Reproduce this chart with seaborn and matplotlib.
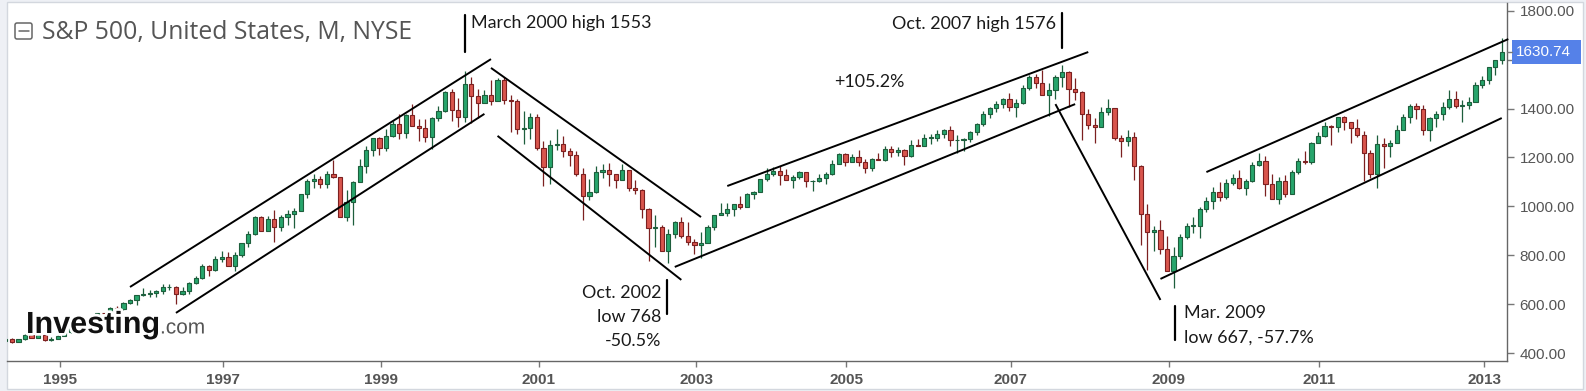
import numpy as np
import pandas as pd
import matplotlib
matplotlib.use("Agg")
import matplotlib.pyplot as plt
import seaborn as sns
from matplotlib.patches import Rectangle, FancyBboxPatch, Ellipse
import matplotlib.patheffects as pe

# ---------------- data (S&P 500 monthly candles, May 1994 - May 2013) ----------------
first_month = "1994-05"
last_month = "2013-05"

opens = [
    450.9, 456.5, 444.3, 458.3, 475.5, 462.7, 472.4, 453.7,
    459.3, 470.4, 487.4, 500.7, 514.7, 533.4, 544.8, 562.1, 561.9, 584.4, 581.5, 605.4,
    615.9, 636.0, 640.4, 645.5, 654.2, 669.1, 670.6, 640.0, 652.0, 687.3, 705.3, 757.0,
    740.7, 786.2, 790.8, 757.1, 801.3, 848.3, 885.1, 954.3, 899.5, 947.3, 914.6, 955.4,
    970.4, 980.3, 1049.3, 1101.8, 1111.8, 1090.8, 1133.8, 1120.7, 957.3, 1017.0, 1098.7, 1163.6,
    1229.2, 1279.6, 1238.3, 1286.4, 1335.2, 1301.8, 1372.7, 1328.7, 1320.4, 1282.7, 1362.9, 1388.9,
    1469.3, 1394.5, 1366.4, 1498.6, 1452.4, 1420.6, 1454.6, 1430.8, 1517.7, 1436.5, 1429.4, 1315.0,
    1320.3, 1366.0, 1239.9, 1160.3, 1249.5, 1255.8, 1224.4, 1211.2, 1133.6, 1040.9, 1059.8, 1139.5,
    1148.1, 1130.2, 1106.7, 1147.4, 1076.9, 1067.1, 989.8, 911.6, 916.1, 815.3, 885.8, 936.3,
    879.8, 855.7, 841.2, 848.2, 916.9, 963.6, 974.5, 990.3, 1008.0, 996.0, 1050.7, 1058.2,
    1111.9, 1131.1, 1144.9, 1126.2, 1107.3, 1120.7, 1140.8, 1101.7, 1104.2, 1114.6, 1130.2, 1173.8,
    1211.9, 1181.3, 1203.6, 1180.6, 1156.9, 1191.5, 1191.3, 1234.2, 1220.3, 1228.8, 1207.0, 1249.5,
    1248.3, 1280.1, 1280.7, 1294.8, 1310.6, 1270.1, 1270.2, 1276.7, 1303.8, 1335.9, 1377.9, 1400.6,
    1418.3, 1438.2, 1406.8, 1420.9, 1482.4, 1530.6, 1503.4, 1455.3, 1474.0, 1526.8, 1549.4, 1481.1,
    1468.4, 1378.6, 1330.6, 1322.7, 1385.6, 1400.4, 1280.0, 1267.4, 1282.8, 1166.4, 968.8, 896.2,
    903.3, 825.9, 735.1, 797.9, 872.8, 919.1, 919.3, 987.5, 1020.6, 1057.1, 1036.2, 1095.6,
    1115.1, 1073.9, 1104.5, 1169.4, 1186.7, 1089.4, 1030.7, 1101.6, 1049.3, 1141.2, 1183.3, 1180.6,
    1257.6, 1286.1, 1327.2, 1325.8, 1363.6, 1345.2, 1320.6, 1292.3, 1218.9, 1131.4, 1253.3, 1247.0,
    1257.6, 1312.4, 1365.7, 1408.5, 1397.9, 1310.3, 1362.2, 1379.3, 1406.6, 1440.7, 1412.2, 1416.2,
    1426.2, 1498.1, 1514.7, 1569.2, 1597.6,
]
highs = [
    457.6, 462.1, 459.3, 477.1, 476.0, 473.8, 474.6, 466.5,
    472.8, 489.2, 503.9, 515.3, 535.0, 551.1, 563.8, 565.4, 586.8, 590.7, 608.8, 622.9,
    636.2, 664.2, 659.4, 657.0, 681.1, 680.3, 675.9, 670.7, 690.9, 714.1, 762.1, 761.8,
    794.7, 817.7, 814.9, 812.9, 851.5, 898.7, 960.3, 961.6, 960.5, 983.1, 964.6, 986.3,
    992.7, 1051.0, 1113.1, 1130.5, 1122.1, 1145.2, 1190.6, 1121.6, 1066.1, 1103.8, 1193.0, 1244.9,
    1280.4, 1283.0, 1316.6, 1347.8, 1376.0, 1376.8, 1420.3, 1357.7, 1357.7, 1364.0, 1408.3, 1473.1,
    1478.0, 1444.6, 1552.9, 1527.2, 1481.5, 1474.6, 1517.3, 1525.2, 1530.1, 1454.8, 1438.5, 1389.1,
    1383.4, 1376.4, 1267.4, 1269.3, 1315.9, 1286.6, 1239.8, 1226.3, 1155.4, 1110.6, 1163.4, 1173.0,
    1176.6, 1130.2, 1173.0, 1147.8, 1106.6, 1070.7, 994.5, 965.0, 924.0, 907.4, 941.8, 954.3,
    935.0, 864.6, 895.9, 924.2, 965.4, 1015.3, 1015.4, 1011.0, 1040.3, 1053.8, 1063.7, 1112.6,
    1155.4, 1159.0, 1163.2, 1150.6, 1127.7, 1146.3, 1140.8, 1108.6, 1131.5, 1142.1, 1188.5, 1217.3,
    1217.9, 1212.4, 1229.1, 1191.9, 1199.6, 1219.6, 1245.2, 1245.9, 1243.1, 1233.3, 1270.6, 1275.8,
    1294.9, 1297.6, 1310.9, 1318.2, 1326.7, 1290.7, 1280.4, 1306.7, 1340.3, 1389.5, 1407.9, 1431.8,
    1441.6, 1461.6, 1438.9, 1498.0, 1535.6, 1540.6, 1555.9, 1503.9, 1538.7, 1576.1, 1552.8, 1523.6,
    1471.8, 1396.0, 1359.7, 1404.6, 1440.2, 1404.1, 1292.2, 1313.2, 1303.0, 1167.0, 1007.5, 918.9,
    943.9, 877.9, 833.0, 888.7, 930.2, 956.2, 996.7, 1039.5, 1080.2, 1101.4, 1111.0, 1130.4,
    1150.5, 1112.4, 1180.2, 1219.8, 1205.1, 1131.2, 1121.0, 1129.2, 1148.7, 1196.1, 1227.1, 1262.6,
    1302.7, 1344.1, 1332.3, 1367.0, 1370.6, 1345.2, 1356.5, 1307.4, 1229.3, 1292.7, 1277.6, 1269.4,
    1333.5, 1378.0, 1419.2, 1422.4, 1415.3, 1363.5, 1391.7, 1426.7, 1474.5, 1471.0, 1434.3, 1448.0,
    1509.9, 1530.9, 1570.3, 1597.6, 1687.2,
]
lows = [
    439.8, 441.6, 444.3, 454.3, 460.4, 460.2, 449.1, 450.6,
    457.2, 469.0, 481.7, 500.2, 510.8, 530.2, 541.6, 553.5, 560.4, 573.4, 577.5, 599.9,
    597.3, 633.7, 627.6, 630.1, 641.3, 659.5, 601.8, 638.5, 639.6, 682.9, 703.8, 716.7,
    737.0, 773.4, 756.0, 733.5, 793.2, 833.6, 882.9, 897.8, 898.0, 855.3, 897.8, 924.9,
    912.8, 979.5, 1032.5, 1076.7, 1074.4, 1074.8, 1114.3, 957.3, 940.0, 923.3, 1098.6, 1136.9,
    1205.5, 1211.7, 1226.2, 1282.7, 1277.3, 1281.4, 1328.7, 1268.7, 1263.5, 1233.7, 1348.7, 1387.4,
    1350.1, 1325.1, 1346.6, 1339.4, 1361.1, 1420.6, 1413.9, 1429.9, 1419.4, 1305.8, 1294.9, 1254.1,
    1274.6, 1228.3, 1081.2, 1092.0, 1232.0, 1203.0, 1165.5, 1124.9, 944.8, 1026.8, 1054.3, 1114.5,
    1081.7, 1074.4, 1106.7, 1063.5, 1049.0, 952.9, 775.7, 833.4, 815.3, 768.6, 872.1, 872.0,
    840.3, 806.3, 788.9, 847.9, 902.8, 963.6, 962.1, 960.8, 990.4, 996.0, 1031.2, 1058.2,
    1105.1, 1124.4, 1087.2, 1107.2, 1076.3, 1113.3, 1078.8, 1060.7, 1101.3, 1090.2, 1127.6, 1173.8,
    1163.8, 1180.1, 1163.7, 1136.2, 1146.2, 1188.3, 1183.6, 1201.1, 1205.4, 1168.2, 1201.1, 1246.6,
    1245.7, 1253.6, 1268.4, 1280.7, 1245.3, 1219.3, 1224.5, 1261.3, 1290.9, 1327.1, 1361.0, 1385.9,
    1404.0, 1389.1, 1364.0, 1416.4, 1476.7, 1484.2, 1454.3, 1370.6, 1439.3, 1489.6, 1406.1, 1435.7,
    1270.1, 1316.8, 1257.0, 1324.4, 1373.1, 1272.0, 1200.4, 1247.5, 1106.4, 839.8, 741.0, 815.7,
    804.5, 734.5, 666.8, 783.3, 866.1, 888.9, 869.3, 978.5, 991.0, 1020.0, 1029.4, 1085.9,
    1071.6, 1044.5, 1101.0, 1163.0, 1040.8, 1028.3, 1010.9, 1039.7, 1049.3, 1131.9, 1173.0, 1173.0,
    1257.6, 1282.9, 1249.1, 1305.6, 1311.8, 1258.1, 1282.9, 1101.5, 1114.2, 1074.8, 1158.7, 1202.4,
    1257.6, 1312.4, 1340.0, 1357.4, 1292.0, 1266.7, 1325.4, 1354.7, 1396.6, 1403.3, 1343.4, 1398.1,
    1426.2, 1485.0, 1501.5, 1536.0, 1581.3,
]
closes = [
    456.5, 444.3, 458.3, 475.5, 462.7, 472.4, 453.7, 459.3,
    470.4, 487.4, 500.7, 514.7, 533.4, 544.8, 562.1, 561.9, 584.4, 581.5, 605.4, 615.9,
    636.0, 640.4, 645.5, 654.2, 669.1, 670.6, 640.0, 652.0, 687.3, 705.3, 757.0, 740.7,
    786.2, 790.8, 757.1, 801.3, 848.3, 885.1, 954.3, 899.5, 947.3, 914.6, 955.4, 970.4,
    980.3, 1049.3, 1101.8, 1111.8, 1090.8, 1133.8, 1120.7, 957.3, 1017.0, 1098.7, 1163.6, 1229.2,
    1279.6, 1238.3, 1286.4, 1335.2, 1301.8, 1372.7, 1328.7, 1320.4, 1282.7, 1362.9, 1388.9, 1469.3,
    1394.5, 1366.4, 1498.6, 1452.4, 1420.6, 1454.6, 1430.8, 1517.7, 1436.5, 1429.4, 1315.0, 1320.3,
    1366.0, 1239.9, 1160.3, 1249.5, 1255.8, 1224.4, 1211.2, 1133.6, 1040.9, 1059.8, 1139.5, 1148.1,
    1130.2, 1106.7, 1147.4, 1076.9, 1067.1, 989.8, 911.6, 916.1, 815.3, 885.8, 936.3, 879.8,
    855.7, 841.2, 848.2, 916.9, 963.6, 974.5, 990.3, 1008.0, 996.0, 1050.7, 1058.2, 1111.9,
    1131.1, 1144.9, 1126.2, 1107.3, 1120.7, 1140.8, 1101.7, 1104.2, 1114.6, 1130.2, 1173.8, 1211.9,
    1181.3, 1203.6, 1180.6, 1156.9, 1191.5, 1191.3, 1234.2, 1220.3, 1228.8, 1207.0, 1249.5, 1248.3,
    1280.1, 1280.7, 1294.8, 1310.6, 1270.1, 1270.2, 1276.7, 1303.8, 1335.9, 1377.9, 1400.6, 1418.3,
    1438.2, 1406.8, 1420.9, 1482.4, 1530.6, 1503.4, 1455.3, 1474.0, 1526.8, 1549.4, 1481.1, 1468.4,
    1378.6, 1330.6, 1322.7, 1385.6, 1400.4, 1280.0, 1267.4, 1282.8, 1166.4, 968.8, 896.2, 903.3,
    825.9, 735.1, 797.9, 872.8, 919.1, 919.3, 987.5, 1020.6, 1057.1, 1036.2, 1095.6, 1115.1,
    1073.9, 1104.5, 1169.4, 1186.7, 1089.4, 1030.7, 1101.6, 1049.3, 1141.2, 1183.3, 1180.6, 1257.6,
    1286.1, 1327.2, 1325.8, 1363.6, 1345.2, 1320.6, 1292.3, 1218.9, 1131.4, 1253.3, 1247.0, 1257.6,
    1312.4, 1365.7, 1408.5, 1397.9, 1310.3, 1362.2, 1379.3, 1406.6, 1440.7, 1412.2, 1416.2, 1426.2,
    1498.1, 1514.7, 1569.2, 1597.6, 1630.74,
]

year_labels = ["1995", "1997", "1999", "2001", "2003", "2005", "2007", "2009", "2011", "2013"]
y_ticks = [400, 600, 800, 1000, 1200, 1400, 1600, 1800]
last_price = 1630.74

# trend channel lines: (month, value) endpoints
trend_lines = [
    (("1995-12", 670), ("2000-07", 1602)),
    (("1996-07", 564), ("2000-06", 1378)),
    (("2000-07", 1566), ("2003-03", 956)),
    (("2000-08", 1288), ("2002-12", 699)),
    (("2003-07", 1083), ("2008-02", 1631)),
    (("2002-11", 752), ("2007-12", 1418)),
    (("2007-09", 1418), ("2009-01", 617)),
    (("2009-08", 1140), ("2013-06", 1684)),
    (("2009-01", 703), ("2013-05", 1361)),
]

annotations_right = [("Oct. 2002", "low 768", "-50.5%")]

# ---------------- build frame ----------------
months = pd.period_range(first_month, last_month, freq="M")
assert len(months) == len(opens) == len(highs) == len(lows) == len(closes), (
    len(months), len(opens), len(highs), len(lows), len(closes))


def midx(p):
    p = pd.Period(p, freq="M")
    return (p.year - 1995) * 12 + p.month - 1


df = pd.DataFrame({"t": [midx(m) for m in months], "o": opens, "h": highs,
                   "l": lows, "c": closes})
df["up"] = df["c"] >= df["o"]

# ---------------- style ----------------
sns.set_theme(style="white")
plt.rcParams["font.family"] = ["Liberation Sans", "DejaVu Sans"]

W, H = 1586, 391
fig = plt.figure(figsize=(W / 100, H / 100), dpi=100, facecolor="#eef0f5")

# widget background
bg = fig.add_axes([0, 0, 1, 1], zorder=-5)
bg.set_xlim(0, W); bg.set_ylim(H, 0); bg.axis("off")
bg.add_patch(Rectangle((7, 2), 1576, 387, facecolor="white", edgecolor="#d3d7de", lw=1))

ax = fig.add_axes([7 / W, 30 / H, 1500 / W, 358 / H], zorder=1)
ax.set_facecolor("white")
ax.patch.set_alpha(0)

GREEN_F, GREEN_E = "#27a56c", "#1d5e3c"
RED_F, RED_E = "#d9554d", "#7c2020"
fills = np.where(df["up"], GREEN_F, RED_F)
edges = np.where(df["up"], GREEN_E, RED_E)

ax.vlines(df["t"], df["l"], df["h"], colors=edges, lw=0.9, zorder=2)
body_lo = np.minimum(df["o"], df["c"])
body_h = np.maximum((df["c"] - df["o"]).abs(), 2.5)
ax.bar(df["t"], body_h, bottom=body_lo, width=0.64, color=fills, edgecolor=edges,
       linewidth=0.8, zorder=3)

for (m0, v0), (m1, v1) in trend_lines:
    ax.plot([midx(m0), midx(m1)], [v0, v1], color="black", lw=1.4, zorder=4,
            clip_on=False, solid_capstyle="butt")

ax.set_xlim(-7.74, 220.8)
ax.set_ylim(367.3, 1831.5)

tick_offsets = [0.3, 1.2, 1.3, 1.3, 1.3, 0.1, 1.2, 1.3, 0.2, 1.3]
ax.set_xticks([midx(y + "-01") + off for y, off in zip(year_labels, tick_offsets)])
ax.set_xticklabels(year_labels, fontsize=11, fontweight="bold", color="#555555")
ax.yaxis.tick_right()
ax.set_yticks(y_ticks)
# the 1600 label is hidden under the last-price tag in the reference
ax.set_yticklabels(["" if v == 1600 else f"{v:.2f}" for v in y_ticks],
                   fontsize=11, color="#555555")
ax.tick_params(axis="x", length=4, width=1, color="#777777", pad=5, bottom=True)
ax.tick_params(axis="y", length=5, width=1, color="#777777", pad=4, right=True, left=False)
for s in ["top", "left"]:
    ax.spines[s].set_visible(False)
for s in ["right", "bottom"]:
    ax.spines[s].set_color("#666666")
    ax.spines[s].set_linewidth(1)
ax.grid(False)

# ---------------- overlay (pixel coordinates) ----------------
ov = fig.add_axes([0, 0, 1, 1], zorder=5)
ov.set_xlim(0, W); ov.set_ylim(H, 0); ov.axis("off"); ov.patch.set_alpha(0)

# title + collapse icon
ov.add_patch(FancyBboxPatch((15, 23), 17, 16, boxstyle="round,pad=0,rounding_size=2",
                            facecolor="none", edgecolor="#666666", lw=1.1))
ov.plot([18.5, 28.5], [31, 31], color="#666666", lw=1.1)
ov.text(42, 32, "S&P 500, United States, M, NYSE", fontsize=17.8, color="#555555",
        family=["Open Sans", "DejaVu Sans"], ha="left", va="center")

# logo
halo = [pe.withStroke(linewidth=4, foreground="white")]
ov.text(26, 325, "Investing", fontsize=22, fontweight="bold", color="#111111",
        ha="left", va="center", path_effects=halo)
ov.text(160, 328, ".com", fontsize=15, color="#555555", ha="left", va="center",
        path_effects=halo)
ov.add_patch(Ellipse((118.5, 313.5), 5, 5, facecolor="#f5a623", edgecolor="none"))

# annotation texts
afont = dict(family=["Lato", "DejaVu Sans"], fontsize=12.9, color="#1a1a1a")
ov.text(471, 23, "March 2000 high 1553", ha="left", va="center", **afont)
ov.plot([465, 465], [15, 52], color="black", lw=1.6)
ov.text(1056, 24, "Oct. 2007 high 1576", ha="right", va="center", **afont)
ov.plot([1062, 1062], [13, 48], color="black", lw=1.6)
ov.text(869, 82, "+105.2%", ha="center", va="center", **afont)
for i, line in enumerate(annotations_right[0]):
    ov.text(661, 293 + 24 * i, line, ha="right", va="center", **afont)
ov.plot([667, 667], [280, 314], color="black", lw=1.6)
ov.text(1184, 313, "Mar. 2009", ha="left", va="center", **afont)
ov.text(1184, 338, "low 667, -57.7%", ha="left", va="center", **afont)
ov.plot([1175, 1175], [306, 340], color="black", lw=1.6)

# last price tag
y_last = ax.transData.transform((0, last_price))[1]
y_last_px = H - y_last
ov.plot([1507, 1512], [y_last_px, y_last_px], color="#777777", lw=1)
ov.add_patch(Rectangle((1512, y_last_px - 12), 69, 24, facecolor="#5581e8", edgecolor="none"))
ov.text(1516, y_last_px, f"{last_price:.2f}", fontsize=11, color="white", ha="left", va="center")

fig.savefig("out.png", dpi=100, facecolor=fig.get_facecolor())
